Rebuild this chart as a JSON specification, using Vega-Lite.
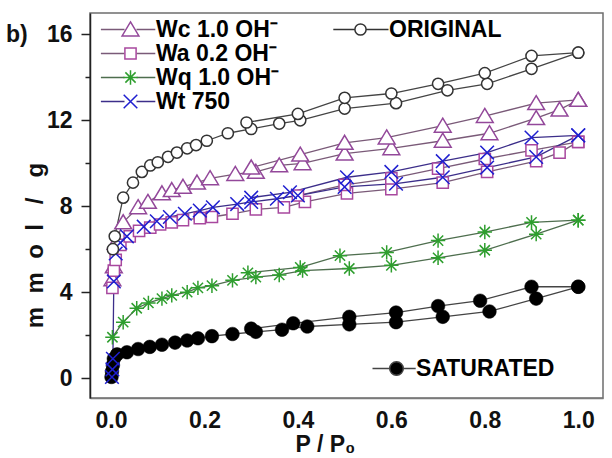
{
  "$schema": "https://vega.github.io/schema/vega-lite/v6.json",
  "width": 513,
  "height": 385,
  "autosize": {"type": "none"},
  "padding": {"left": 90, "top": 13, "right": 9, "bottom": 60},
  "background": "white",
  "config": {
    "font": "Liberation Sans",
    "view": {"stroke": "#6e6e6e", "strokeWidth": 1.5},
    "axis": {"grid": false},
    "legend": {
      "title": null,
      "padding": 0,
      "rowPadding": 0,
      "symbolSize": 256,
      "labelFont": "Liberation Sans",
      "labelFontWeight": "bold",
      "labelFontSize": 23,
      "labelColor": "black"
    }
  },
  "datasets": {
    "pts": [
      {"s":"ORIGINAL","b":"a","i":0,"x":0.004,"y":6.0},
      {"s":"ORIGINAL","b":"a","i":1,"x":0.008,"y":6.6},
      {"s":"ORIGINAL","b":"a","i":2,"x":0.026,"y":8.4},
      {"s":"ORIGINAL","b":"a","i":3,"x":0.047,"y":9.1},
      {"s":"ORIGINAL","b":"a","i":4,"x":0.066,"y":9.6},
      {"s":"ORIGINAL","b":"a","i":5,"x":0.084,"y":9.9},
      {"s":"ORIGINAL","b":"a","i":6,"x":0.1,"y":10.05},
      {"s":"ORIGINAL","b":"a","i":7,"x":0.122,"y":10.3},
      {"s":"ORIGINAL","b":"a","i":8,"x":0.141,"y":10.5},
      {"s":"ORIGINAL","b":"a","i":9,"x":0.163,"y":10.7},
      {"s":"ORIGINAL","b":"a","i":10,"x":0.182,"y":10.85},
      {"s":"ORIGINAL","b":"a","i":11,"x":0.205,"y":11.05},
      {"s":"ORIGINAL","b":"a","i":12,"x":0.25,"y":11.4},
      {"s":"ORIGINAL","b":"a","i":13,"x":0.3,"y":11.6},
      {"s":"ORIGINAL","b":"a","i":14,"x":0.36,"y":11.85},
      {"s":"ORIGINAL","b":"a","i":15,"x":0.405,"y":12.0},
      {"s":"ORIGINAL","b":"a","i":16,"x":0.5,"y":12.55},
      {"s":"ORIGINAL","b":"a","i":17,"x":0.61,"y":12.8},
      {"s":"ORIGINAL","b":"a","i":18,"x":0.72,"y":13.4},
      {"s":"ORIGINAL","b":"a","i":19,"x":0.805,"y":13.7},
      {"s":"ORIGINAL","b":"a","i":20,"x":0.9,"y":14.4},
      {"s":"ORIGINAL","b":"a","i":21,"x":1.0,"y":15.15},
      {"s":"ORIGINAL","b":"d","i":0,"x":1.0,"y":15.15},
      {"s":"ORIGINAL","b":"d","i":1,"x":0.9,"y":15.0},
      {"s":"ORIGINAL","b":"d","i":2,"x":0.8,"y":14.2},
      {"s":"ORIGINAL","b":"d","i":3,"x":0.7,"y":13.7},
      {"s":"ORIGINAL","b":"d","i":4,"x":0.6,"y":13.25},
      {"s":"ORIGINAL","b":"d","i":5,"x":0.5,"y":13.05},
      {"s":"ORIGINAL","b":"d","i":6,"x":0.4,"y":12.3},
      {"s":"ORIGINAL","b":"d","i":7,"x":0.29,"y":11.9},

      {"s":"Wc","b":"a","i":0,"x":0.003,"y":4.6},
      {"s":"Wc","b":"a","i":1,"x":0.006,"y":5.2},
      {"s":"Wc","b":"a","i":2,"x":0.01,"y":6.3},
      {"s":"Wc","b":"a","i":3,"x":0.026,"y":7.25},
      {"s":"Wc","b":"a","i":4,"x":0.058,"y":7.95},
      {"s":"Wc","b":"a","i":5,"x":0.079,"y":8.2},
      {"s":"Wc","b":"a","i":6,"x":0.109,"y":8.6},
      {"s":"Wc","b":"a","i":7,"x":0.13,"y":8.75},
      {"s":"Wc","b":"a","i":8,"x":0.154,"y":8.9},
      {"s":"Wc","b":"a","i":9,"x":0.184,"y":9.1},
      {"s":"Wc","b":"a","i":10,"x":0.212,"y":9.3},
      {"s":"Wc","b":"a","i":11,"x":0.266,"y":9.5},
      {"s":"Wc","b":"a","i":12,"x":0.31,"y":9.6},
      {"s":"Wc","b":"a","i":13,"x":0.36,"y":9.9},
      {"s":"Wc","b":"a","i":14,"x":0.41,"y":10.0},
      {"s":"Wc","b":"a","i":15,"x":0.5,"y":10.45},
      {"s":"Wc","b":"a","i":16,"x":0.6,"y":10.7},
      {"s":"Wc","b":"a","i":17,"x":0.71,"y":11.05},
      {"s":"Wc","b":"a","i":18,"x":0.81,"y":11.4},
      {"s":"Wc","b":"a","i":19,"x":0.91,"y":12.1},
      {"s":"Wc","b":"a","i":20,"x":0.96,"y":12.5},
      {"s":"Wc","b":"a","i":21,"x":1.0,"y":12.95},
      {"s":"Wc","b":"d","i":0,"x":1.0,"y":12.95},
      {"s":"Wc","b":"d","i":1,"x":0.91,"y":12.8},
      {"s":"Wc","b":"d","i":2,"x":0.8,"y":12.2},
      {"s":"Wc","b":"d","i":3,"x":0.71,"y":11.75},
      {"s":"Wc","b":"d","i":4,"x":0.59,"y":11.2},
      {"s":"Wc","b":"d","i":5,"x":0.5,"y":10.95},
      {"s":"Wc","b":"d","i":6,"x":0.405,"y":10.4},
      {"s":"Wc","b":"d","i":7,"x":0.3,"y":9.8},

      {"s":"Wa","b":"a","i":0,"x":0.003,"y":4.2},
      {"s":"Wa","b":"a","i":1,"x":0.006,"y":5.0},
      {"s":"Wa","b":"a","i":2,"x":0.01,"y":5.5},
      {"s":"Wa","b":"a","i":3,"x":0.02,"y":6.2},
      {"s":"Wa","b":"a","i":4,"x":0.04,"y":6.6},
      {"s":"Wa","b":"a","i":5,"x":0.06,"y":6.85},
      {"s":"Wa","b":"a","i":6,"x":0.084,"y":7.0},
      {"s":"Wa","b":"a","i":7,"x":0.105,"y":7.15},
      {"s":"Wa","b":"a","i":8,"x":0.13,"y":7.25},
      {"s":"Wa","b":"a","i":9,"x":0.154,"y":7.35},
      {"s":"Wa","b":"a","i":10,"x":0.19,"y":7.45},
      {"s":"Wa","b":"a","i":11,"x":0.216,"y":7.5},
      {"s":"Wa","b":"a","i":12,"x":0.26,"y":7.65},
      {"s":"Wa","b":"a","i":13,"x":0.31,"y":7.85},
      {"s":"Wa","b":"a","i":14,"x":0.37,"y":7.95},
      {"s":"Wa","b":"a","i":15,"x":0.415,"y":8.2},
      {"s":"Wa","b":"a","i":16,"x":0.505,"y":8.6},
      {"s":"Wa","b":"a","i":17,"x":0.6,"y":8.8},
      {"s":"Wa","b":"a","i":18,"x":0.71,"y":9.1},
      {"s":"Wa","b":"a","i":19,"x":0.805,"y":9.6},
      {"s":"Wa","b":"a","i":20,"x":0.91,"y":10.1},
      {"s":"Wa","b":"a","i":21,"x":0.96,"y":10.5},
      {"s":"Wa","b":"a","i":22,"x":1.0,"y":11.0},
      {"s":"Wa","b":"d","i":0,"x":1.0,"y":11.0},
      {"s":"Wa","b":"d","i":1,"x":0.9,"y":10.6},
      {"s":"Wa","b":"d","i":2,"x":0.8,"y":10.2},
      {"s":"Wa","b":"d","i":3,"x":0.7,"y":9.75},
      {"s":"Wa","b":"d","i":4,"x":0.6,"y":9.3},
      {"s":"Wa","b":"d","i":5,"x":0.5,"y":9.0},
      {"s":"Wa","b":"d","i":6,"x":0.4,"y":8.5},

      {"s":"Wq","b":"a","i":0,"x":0.003,"y":1.9},
      {"s":"Wq","b":"a","i":1,"x":0.026,"y":2.6},
      {"s":"Wq","b":"a","i":2,"x":0.055,"y":3.25},
      {"s":"Wq","b":"a","i":3,"x":0.08,"y":3.5},
      {"s":"Wq","b":"a","i":4,"x":0.109,"y":3.7},
      {"s":"Wq","b":"a","i":5,"x":0.13,"y":3.85},
      {"s":"Wq","b":"a","i":6,"x":0.163,"y":4.0},
      {"s":"Wq","b":"a","i":7,"x":0.186,"y":4.2},
      {"s":"Wq","b":"a","i":8,"x":0.216,"y":4.3},
      {"s":"Wq","b":"a","i":9,"x":0.26,"y":4.55},
      {"s":"Wq","b":"a","i":10,"x":0.31,"y":4.7},
      {"s":"Wq","b":"a","i":11,"x":0.36,"y":4.8},
      {"s":"Wq","b":"a","i":12,"x":0.41,"y":5.0},
      {"s":"Wq","b":"a","i":13,"x":0.51,"y":5.1},
      {"s":"Wq","b":"a","i":14,"x":0.6,"y":5.25},
      {"s":"Wq","b":"a","i":15,"x":0.7,"y":5.6},
      {"s":"Wq","b":"a","i":16,"x":0.8,"y":5.95},
      {"s":"Wq","b":"a","i":17,"x":0.91,"y":6.7},
      {"s":"Wq","b":"a","i":18,"x":1.0,"y":7.35},
      {"s":"Wq","b":"d","i":0,"x":1.0,"y":7.35},
      {"s":"Wq","b":"d","i":1,"x":0.9,"y":7.25},
      {"s":"Wq","b":"d","i":2,"x":0.8,"y":6.8},
      {"s":"Wq","b":"d","i":3,"x":0.7,"y":6.4},
      {"s":"Wq","b":"d","i":4,"x":0.59,"y":5.85},
      {"s":"Wq","b":"d","i":5,"x":0.49,"y":5.7},
      {"s":"Wq","b":"d","i":6,"x":0.405,"y":5.15},
      {"s":"Wq","b":"d","i":7,"x":0.293,"y":4.9},

      {"s":"Wt","b":"a","i":0,"x":0.002,"y":0.05},
      {"s":"Wt","b":"a","i":1,"x":0.003,"y":0.4},
      {"s":"Wt","b":"a","i":2,"x":0.004,"y":0.9},
      {"s":"Wt","b":"a","i":3,"x":0.006,"y":4.5},
      {"s":"Wt","b":"a","i":4,"x":0.01,"y":5.8},
      {"s":"Wt","b":"a","i":5,"x":0.02,"y":6.3},
      {"s":"Wt","b":"a","i":6,"x":0.034,"y":6.6},
      {"s":"Wt","b":"a","i":7,"x":0.07,"y":7.05},
      {"s":"Wt","b":"a","i":8,"x":0.098,"y":7.3},
      {"s":"Wt","b":"a","i":9,"x":0.126,"y":7.5},
      {"s":"Wt","b":"a","i":10,"x":0.158,"y":7.65},
      {"s":"Wt","b":"a","i":11,"x":0.19,"y":7.8},
      {"s":"Wt","b":"a","i":12,"x":0.218,"y":7.95},
      {"s":"Wt","b":"a","i":13,"x":0.27,"y":8.1},
      {"s":"Wt","b":"a","i":14,"x":0.3,"y":8.2},
      {"s":"Wt","b":"a","i":15,"x":0.355,"y":8.35},
      {"s":"Wt","b":"a","i":16,"x":0.4,"y":8.5},
      {"s":"Wt","b":"a","i":17,"x":0.5,"y":8.9},
      {"s":"Wt","b":"a","i":18,"x":0.61,"y":9.05},
      {"s":"Wt","b":"a","i":19,"x":0.71,"y":9.35},
      {"s":"Wt","b":"a","i":20,"x":0.805,"y":9.8},
      {"s":"Wt","b":"a","i":21,"x":0.91,"y":10.3},
      {"s":"Wt","b":"a","i":22,"x":1.0,"y":11.3},
      {"s":"Wt","b":"d","i":0,"x":1.0,"y":11.3},
      {"s":"Wt","b":"d","i":1,"x":0.9,"y":11.2},
      {"s":"Wt","b":"d","i":2,"x":0.805,"y":10.5},
      {"s":"Wt","b":"d","i":3,"x":0.71,"y":10.1},
      {"s":"Wt","b":"d","i":4,"x":0.6,"y":9.6},
      {"s":"Wt","b":"d","i":5,"x":0.505,"y":9.35},
      {"s":"Wt","b":"d","i":6,"x":0.383,"y":8.65},
      {"s":"Wt","b":"d","i":7,"x":0.3,"y":8.4},

      {"s":"SATURATED","b":"a","i":0,"x":0.001,"y":0.05},
      {"s":"SATURATED","b":"a","i":1,"x":0.002,"y":0.3},
      {"s":"SATURATED","b":"a","i":2,"x":0.004,"y":0.6},
      {"s":"SATURATED","b":"a","i":3,"x":0.006,"y":0.9},
      {"s":"SATURATED","b":"a","i":4,"x":0.013,"y":1.1},
      {"s":"SATURATED","b":"a","i":5,"x":0.034,"y":1.2},
      {"s":"SATURATED","b":"a","i":6,"x":0.058,"y":1.35},
      {"s":"SATURATED","b":"a","i":7,"x":0.083,"y":1.45},
      {"s":"SATURATED","b":"a","i":8,"x":0.109,"y":1.55},
      {"s":"SATURATED","b":"a","i":9,"x":0.137,"y":1.65},
      {"s":"SATURATED","b":"a","i":10,"x":0.163,"y":1.75},
      {"s":"SATURATED","b":"a","i":11,"x":0.186,"y":1.85},
      {"s":"SATURATED","b":"a","i":12,"x":0.216,"y":1.95},
      {"s":"SATURATED","b":"a","i":13,"x":0.26,"y":2.05},
      {"s":"SATURATED","b":"a","i":14,"x":0.31,"y":2.15},
      {"s":"SATURATED","b":"a","i":15,"x":0.366,"y":2.25},
      {"s":"SATURATED","b":"a","i":16,"x":0.42,"y":2.4},
      {"s":"SATURATED","b":"a","i":17,"x":0.51,"y":2.5},
      {"s":"SATURATED","b":"a","i":18,"x":0.61,"y":2.6},
      {"s":"SATURATED","b":"a","i":19,"x":0.71,"y":2.85},
      {"s":"SATURATED","b":"a","i":20,"x":0.81,"y":3.1},
      {"s":"SATURATED","b":"a","i":21,"x":0.91,"y":3.7},
      {"s":"SATURATED","b":"a","i":22,"x":1.0,"y":4.25},
      {"s":"SATURATED","b":"d","i":0,"x":1.0,"y":4.25},
      {"s":"SATURATED","b":"d","i":1,"x":0.9,"y":4.25},
      {"s":"SATURATED","b":"d","i":2,"x":0.79,"y":3.6},
      {"s":"SATURATED","b":"d","i":3,"x":0.7,"y":3.35},
      {"s":"SATURATED","b":"d","i":4,"x":0.61,"y":3.05},
      {"s":"SATURATED","b":"d","i":5,"x":0.51,"y":2.85},
      {"s":"SATURATED","b":"d","i":6,"x":0.39,"y":2.55},
      {"s":"SATURATED","b":"d","i":7,"x":0.3,"y":2.3}
    ]
  },
  "resolve": {
    "scale": {"shape": "independent", "stroke": "independent", "strokeWidth": "independent", "fill": "independent"},
    "axis": {"y": "independent"}
  },
  "layer": [
    {
      "data": {"name": "pts"},
      "transform": [{"filter": "datum.s != 'SATURATED' && datum.s != 'ORIGINAL'"}],
      "mark": {"type": "line", "strokeWidth": 1.3},
      "encoding": {
        "x": {
          "field": "x", "type": "quantitative",
          "scale": {"domain": [-0.045, 1.053], "nice": false, "zero": false},
          "axis": {
            "values": [0, 0.2, 0.4, 0.6, 0.8, 1.0], "format": ".1f",
            "ticks": false, "labelPadding": 11,
            "labelFont": "Liberation Sans", "labelFontWeight": "bold", "labelFontSize": 23, "labelColor": "#111",
            "domainColor": "#7a7a7a", "domainWidth": 1.5,
            "title": "P  /  P₀", "titleFont": "Liberation Sans", "titleFontWeight": "bold", "titleFontSize": 23, "titleColor": "#111",
            "titleX": 235, "titleY": 46, "titleAlign": "center", "titleBaseline": "middle", "titleAnchor": null
          }
        },
        "y": {
          "field": "y", "type": "quantitative",
          "scale": {"domain": [-0.93, 17], "nice": false, "zero": false},
          "axis": {
            "orient": "left",
            "values": [0, 4, 8, 12, 16],
            "labelExpr": "datum.value == 16 ? 'b)\u00a0\u00a0 16' : datum.label",
            "tickSize": 9, "tickWidth": 1.5, "tickColor": "#222", "labelPadding": 9,
            "labelFont": "Liberation Sans", "labelFontWeight": "bold", "labelFontSize": 23, "labelColor": "#111",
            "domainColor": "#222", "domainWidth": 1.5,
            "title": "m\u00a0 m\u00a0 o\u00a0 l\u00a0\u00a0 /\u00a0\u00a0 g", "titleFont": "Liberation Sans", "titleFontWeight": "bold", "titleFontSize": 24, "titleColor": "#111",
            "titleX": -55, "titleY": 232, "titleAlign": "center", "titleBaseline": "middle", "titleAngle": 270
          }
        },
        "detail": {"field": "b"},
        "order": {"field": "i", "type": "quantitative"},
        "stroke": {
          "field": "s", "type": "nominal",
          "scale": {"domain": ["Wc", "Wa", "Wq", "Wt", "z"], "range": ["#7a5a78", "#7a5a78", "#4e6e4e", "#3c2e8a", "#444444"]},
          "legend": {
            "orient": "none", "legendX": 29, "legendY": 5, "labelOffset": 14,
            "values": ["Wc", "Wa", "Wq", "Wt"],
            "labelExpr": "datum.label == 'Wc' ? 'Wc 1.0 OH⁻' : datum.label == 'Wa' ? 'Wa 0.2 OH⁻' : datum.label == 'Wq' ? 'Wq 1.0 OH⁻' : 'Wt 750'",
            "labelColor": "transparent",
            "symbolType": "M-3.7,0L-0.75,0M0.75,0L3.1,0",
            "symbolStrokeWidth": 1.5
          }
        }
      }
    },
    {
      "data": {"name": "pts"},
      "transform": [{"filter": "datum.s == 'SATURATED' || datum.s == 'ORIGINAL'"}],
      "mark": {"type": "line", "strokeWidth": 1.3, "stroke": "#444444"},
      "encoding": {
        "x": {"field": "x", "type": "quantitative"},
        "y": {"field": "y", "type": "quantitative", "axis": null},
        "detail": [{"field": "s"}, {"field": "b"}],
        "order": {"field": "i", "type": "quantitative"}
      }
    },
    {
      "data": {"name": "pts"},
      "transform": [{"filter": "datum.s == 'SATURATED'"}],
      "mark": {"type": "point", "filled": true, "stroke": "black", "strokeWidth": 0.5, "size": 256, "opacity": 1,
               "shape": "M0.85,0A0.85,0.85,0,1,1,-0.85,0A0.85,0.85,0,1,1,0.85,0Z"},
      "encoding": {
        "x": {"field": "x", "type": "quantitative"},
        "y": {
          "field": "y", "type": "quantitative",
          "axis": {"orient": "left", "values": [2, 6, 10, 14], "labels": false, "tickSize": 5, "tickWidth": 1.5, "tickColor": "#222", "domain": false, "title": null}
        },
        "fill": {
          "field": "s", "type": "nominal",
          "scale": {"domain": ["SATURATED"], "range": ["black"]},
          "legend": {
            "orient": "none", "legendX": 295, "legendY": 344, "labelOffset": 8,
            "symbolType": "M-3,0L-0.85,0M0.85,0L2.4,0M0.85,0A0.85,0.85,0,1,1,-0.85,0A0.85,0.85,0,1,1,0.85,0Z",
            "symbolStrokeColor": "#444444", "symbolStrokeWidth": 1.5
          }
        }
      }
    },
    {
      "data": {"name": "pts"},
      "transform": [{"filter": "datum.s != 'SATURATED' && datum.s != 'ORIGINAL'"}],
      "mark": {"type": "point", "filled": false, "fill": "white", "fillOpacity": 1, "size": 256, "opacity": 1},
      "encoding": {
        "x": {"field": "x", "type": "quantitative"},
        "y": {"field": "y", "type": "quantitative", "axis": null},
        "shape": {
          "field": "s", "type": "nominal",
          "scale": {"domain": ["Wc", "Wa", "Wq", "Wt"], "range": [
            "M0,-0.95L1.05,0.8L-1.05,0.8Z",
            "M-0.7,-0.7L0.7,-0.7L0.7,0.7L-0.7,0.7Z",
            "M-0.9,0L0.9,0M0,-0.9L0,0.9M-0.64,-0.64L0.64,0.64M-0.64,0.64L0.64,-0.64",
            "M-0.85,-0.85L0.85,0.85M-0.85,0.85L0.85,-0.85"
          ]},
          "legend": {
            "orient": "none", "legendX": 29, "legendY": 5, "labelOffset": 14,
            "labelExpr": "datum.label == 'Wc' ? 'Wc 1.0 OH⁻' : datum.label == 'Wa' ? 'Wa 0.2 OH⁻' : datum.label == 'Wq' ? 'Wq 1.0 OH⁻' : 'Wt 750'",
            "symbolFillColor": "white"
          }
        },
        "stroke": {
          "field": "s", "type": "nominal",
          "scale": {"domain": ["Wc", "Wa", "Wq", "Wt"], "range": ["#93489a", "#a8489e", "#2e9e2e", "#1f1fd0"]},
          "legend": null
        },
        "strokeWidth": {
          "field": "s", "type": "nominal",
          "scale": {"domain": ["Wc", "Wa", "Wq", "Wt"], "range": [1.5, 1.5, 1.4, 3]},
          "legend": null
        }
      }
    },
    {
      "data": {"name": "pts"},
      "transform": [{"filter": "datum.s == 'ORIGINAL'"}],
      "mark": {"type": "point", "filled": false, "fill": "white", "fillOpacity": 1, "strokeWidth": 1.5, "size": 256, "opacity": 1,
               "shape": "M0.7,0A0.7,0.7,0,1,1,-0.7,0A0.7,0.7,0,1,1,0.7,0Z"},
      "encoding": {
        "x": {"field": "x", "type": "quantitative"},
        "y": {"field": "y", "type": "quantitative", "axis": null},
        "stroke": {
          "field": "s", "type": "nominal",
          "scale": {"domain": ["ORIGINAL"], "range": ["#333333"]},
          "legend": {
            "orient": "none", "legendX": 259, "legendY": 5, "labelOffset": 17,
            "symbolType": "M-3.4,0L-0.7,0M0.7,0L3.5,0M0.7,0A0.7,0.7,0,1,1,-0.7,0A0.7,0.7,0,1,1,0.7,0Z",
            "symbolFillColor": "white", "symbolStrokeWidth": 1.5
          }
        }
      }
    }
  ]
}
